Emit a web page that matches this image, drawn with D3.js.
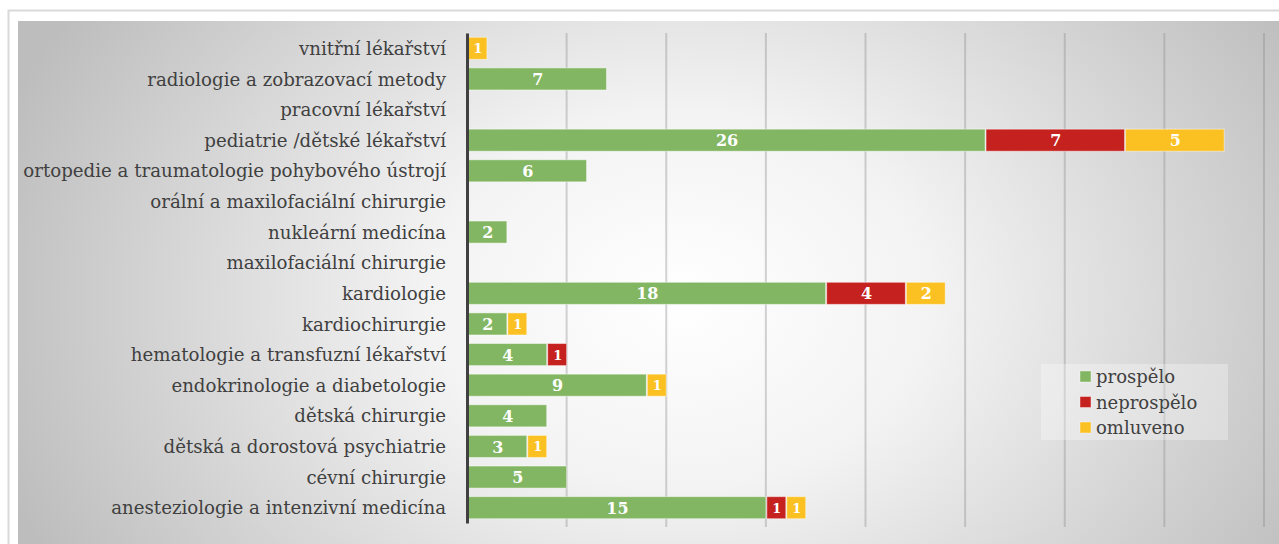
<!DOCTYPE html>
<html>
<head>
<meta charset="utf-8">
<script src="https://cdn.jsdelivr.net/npm/d3@7"></script>
<style>
  body { margin: 0; background: #fff; }
  svg { display: block; }
  svg text { font-family: "DejaVu Serif", serif; }
</style>
</head>
<body>
<div id="chart"></div>
<script>
// 1: DATA
const categories = [
    "vnitřní lékařství",
    "radiologie a zobrazovací metody",
    "pracovní lékařství",
    "pediatrie /dětské lékařství",
    "ortopedie a traumatologie pohybového ústrojí",
    "orální a maxilofaciální chirurgie",
    "nukleární medicína",
    "maxilofaciální chirurgie",
    "kardiologie",
    "kardiochirurgie",
    "hematologie a transfuzní lékařství",
    "endokrinologie a diabetologie",
    "dětská chirurgie",
    "dětská a dorostová psychiatrie",
    "cévní chirurgie",
    "anesteziologie a intenzivní medicína"
];
const prospelo   = [0, 7, 0, 26, 6, 0, 2, 0, 18, 2, 4, 9, 4, 3, 5, 15];
const neprospelo = [0, 0, 0, 7, 0, 0, 0, 0, 4, 0, 1, 0, 0, 0, 0, 1];
const omluveno   = [1, 0, 0, 5, 0, 0, 0, 0, 2, 1, 0, 1, 0, 1, 0, 1];
const seriesNames = ["prospělo", "neprospělo", "omluveno"];
const xTicks = [0, 5, 10, 15, 20, 25, 30, 35, 40];

// 2: SETUP
const W = 1279, H = 544;
const svg = d3.select("#chart").append("svg")
    .attr("width", W)
    .attr("height", H);

const defs = svg.append("defs");
const grad = defs.append("radialGradient")
    .attr("id", "bg")
    .attr("gradientUnits", "userSpaceOnUse")
    .attr("cx", 680).attr("cy", 300).attr("r", 720)
    .attr("gradientTransform", "translate(680,300) scale(1,0.75) translate(-680,-300)");
grad.append("stop").attr("offset", "0").attr("stop-color", "#ffffff");
grad.append("stop").attr("offset", "0.35").attr("stop-color", "#f3f3f3");
grad.append("stop").attr("offset", "1").attr("stop-color", "#bdbdbd");

// outer frame and chart area
svg.append("rect")
    .attr("x", 8.5).attr("y", 10.5)
    .attr("width", W + 20).attr("height", H + 20)
    .attr("fill", "#fff")
    .attr("stroke", "#d9d9d9")
    .attr("stroke-width", 2);
svg.append("rect")
    .attr("x", 18).attr("y", 21)
    .attr("width", W).attr("height", H)
    .attr("fill", "url(#bg)");

// 3: SCALES
const plot = { left: 467, right: 1264, top: 33, bottom: 523 };

const x = d3.scaleLinear()
    .domain([0, 40])
    .range([plot.left, plot.right]);

const y = d3.scaleBand()
    .domain(categories)
    .range([plot.top, plot.bottom])
    .paddingInner(0.28)
    .paddingOuter(0.14);

const color = d3.scaleOrdinal()
    .domain(seriesNames)
    .range(["#82b662", "#c5221f", "#fbc123"]);

// 4: GRIDLINES
svg.append("g")
    .selectAll("line")
    .data(xTicks.slice(1))
    .join("line")
    .attr("x1", d => x(d)).attr("x2", d => x(d))
    .attr("y1", plot.top).attr("y2", plot.bottom + 4)
    .attr("stroke", "#8c8c8c")
    .attr("stroke-opacity", 0.38)
    .attr("stroke-width", 2);

// 5: STACKED BARS
const rows = categories.map((c, i) => ({
    category: c,
    "prospělo": prospelo[i],
    "neprospělo": neprospelo[i],
    "omluveno": omluveno[i]
}));

const stacked = d3.stack().keys(seriesNames)(rows);

const layer = svg.append("g")
    .selectAll("g")
    .data(stacked)
    .join("g")
    .attr("fill", d => color(d.key));

layer.selectAll("rect")
    .data(d => d.filter(s => s[1] > s[0]))
    .join("rect")
    .attr("x", d => x(d[0]) + 1)
    .attr("y", d => y(d.data.category))
    .attr("width", d => x(d[1]) - x(d[0]) - 1)
    .attr("height", y.bandwidth())
    .attr("stroke", "#ffffff")
    .attr("stroke-opacity", 0.45)
    .attr("stroke-width", 1);

layer.selectAll("text")
    .data(d => d.filter(s => s[1] > s[0]))
    .join("text")
    .attr("x", d => (x(d[0]) + x(d[1])) / 2 + 1)
    .attr("y", d => y(d.data.category) + y.bandwidth() / 2)
    .attr("dy", "0.38em")
    .attr("text-anchor", "middle")
    .attr("fill", "#ffffff")
    .attr("font-weight", "bold")
    .attr("font-size", d => (d[1] - d[0]) < 2 ? 13 : 16)
    .text(d => d[1] - d[0]);

// 6: AXIS
const yAxis = d3.axisLeft(y).tickSize(0).tickPadding(21);
const axisG = svg.append("g")
    .attr("transform", `translate(${plot.left},0)`)
    .call(yAxis)
    .attr("font-family", null);
axisG.select(".domain")
    .attr("stroke", "#404040")
    .attr("stroke-width", 3);
axisG.selectAll("text")
    .attr("fill", "#404040")
    .attr("font-size", 18.2)
    .attr("dy", "0.36em");

// 7: LEGEND
const legend = svg.append("g").attr("transform", "translate(1041,364)");
legend.append("rect")
    .attr("width", 187).attr("height", 76)
    .attr("fill", "#ffffff")
    .attr("fill-opacity", 0.3);

const item = legend.selectAll(".item")
    .data(seriesNames)
    .join("g")
    .attr("class", "item")
    .attr("transform", (d, i) => `translate(39,${13 + i * 25.5})`);

item.append("rect")
    .attr("x", 0).attr("y", -6)
    .attr("width", 11).attr("height", 11)
    .attr("fill", d => color(d))
    .attr("stroke", "#ffffff")
    .attr("stroke-opacity", 0.4);

item.append("text")
    .attr("x", 16)
    .attr("y", 0)
    .attr("dy", "0.35em")
    .attr("fill", "#404040")
    .attr("font-size", 18)
    .text(d => d);
</script>
</body>
</html>
